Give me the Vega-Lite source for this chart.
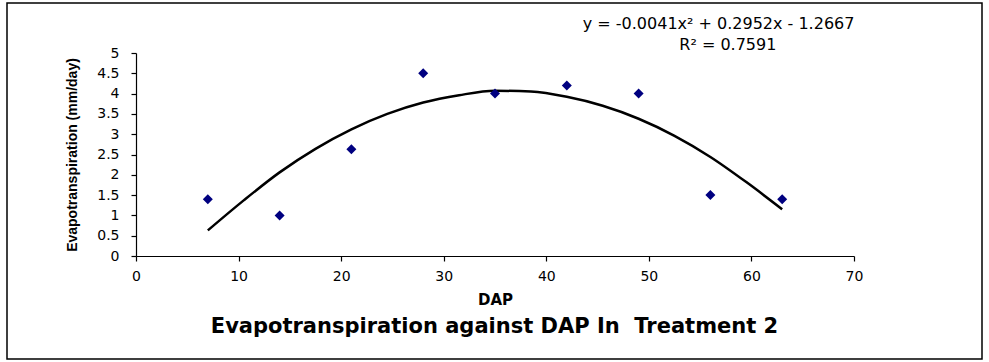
{
  "$schema": "https://vega.github.io/schema/vega-lite/v6.json",
  "width": 975,
  "height": 356,
  "autosize": {"type": "none"},
  "padding": {"left": 7, "top": 3, "right": 7, "bottom": 3},
  "background": "white",
  "title": {
    "text": "Evapotranspiration against DAP In \u00a0Treatment 2",
    "orient": "bottom",
    "anchor": "middle",
    "frame": "group",
    "offset": -43,
    "font": "DejaVu Sans",
    "fontSize": 21,
    "fontWeight": "bold",
    "color": "#000"
  },
  "config": {
    "view": {"stroke": "#000", "strokeWidth": 1.5},
    "axis": {"grid": false, "domainColor": "#000", "tickColor": "#000", "labelColor": "#000", "titleColor": "#000", "domainWidth": 1.2, "tickWidth": 1.2, "labelOverlap": false}
  },
  "datasets": {
    "obs": [
      {"DAP": 7, "ET": 1.4},
      {"DAP": 14, "ET": 1.0},
      {"DAP": 21, "ET": 2.63},
      {"DAP": 28, "ET": 4.5},
      {"DAP": 35, "ET": 4.0},
      {"DAP": 42, "ET": 4.2},
      {"DAP": 49, "ET": 4.0},
      {"DAP": 56, "ET": 1.5},
      {"DAP": 63, "ET": 1.4}
    ],
    "trend": [
      {"DAP": 7, "ET": 0.63},
      {"DAP": 10.5, "ET": 1.37},
      {"DAP": 14, "ET": 2.06},
      {"DAP": 17.5, "ET": 2.64},
      {"DAP": 21, "ET": 3.12},
      {"DAP": 24.5, "ET": 3.5},
      {"DAP": 28, "ET": 3.78},
      {"DAP": 31.5, "ET": 3.96},
      {"DAP": 35, "ET": 4.07},
      {"DAP": 38.5, "ET": 4.05},
      {"DAP": 42, "ET": 3.92},
      {"DAP": 45.5, "ET": 3.7},
      {"DAP": 49, "ET": 3.38},
      {"DAP": 52.5, "ET": 2.96},
      {"DAP": 56, "ET": 2.44},
      {"DAP": 59.5, "ET": 1.82},
      {"DAP": 63, "ET": 1.15}
    ],
    "notes": [
      {"label": "y = -0.0041x\u00b2 + 0.2952x - 1.2667", "DAP": 56.8, "ET": 5.72},
      {"label": "R\u00b2 = 0.7591", "DAP": 57.7, "ET": 5.19}
    ]
  },
  "encoding": {
    "x": {
      "field": "DAP", "type": "quantitative",
      "scale": {"domain": [0, 70], "range": [129, 847], "nice": false, "zero": false},
      "axis": {
        "title": "DAP", "offset": -103, "values": [0, 10, 20, 30, 40, 50, 60, 70], "format": "d",
        "tickSize": 5, "labelPadding": 8, "labelFont": "DejaVu Sans", "labelFontSize": 14,
        "labelFlush": false, "labelOverlap": false,
        "titleFont": "DejaVu Sans", "titleFontSize": 15, "titleFontWeight": "bold", "titlePadding": 9
      }
    },
    "y": {
      "field": "ET", "type": "quantitative",
      "scale": {"domain": [0, 5], "range": [253, 50], "nice": false, "zero": false},
      "axis": {
        "title": "Evapotranspiration (mm/day)", "offset": -129,
        "values": [0, 0.5, 1, 1.5, 2, 2.5, 3, 3.5, 4, 4.5, 5], "format": "~g",
        "tickSize": 5, "labelPadding": 12, "labelFont": "DejaVu Sans", "labelFontSize": 14,
        "labelFlush": false, "labelOverlap": false, "labelBound": false,
        "titleFont": "Liberation Sans", "titleFontSize": 14, "titleFontWeight": "bold", "titlePadding": 17
      }
    }
  },
  "layer": [
    {
      "data": {"name": "trend"},
      "mark": {"type": "line", "color": "#000", "strokeWidth": 2.5, "interpolate": "monotone"}
    },
    {
      "data": {"name": "obs"},
      "mark": {"type": "point", "shape": "diamond", "filled": true, "color": "#000080", "size": 100, "opacity": 1}
    },
    {
      "data": {"name": "notes"},
      "mark": {"type": "text", "font": "DejaVu Sans", "fontSize": 16, "color": "#000", "align": "center", "baseline": "middle"},
      "encoding": {
        "text": {"field": "label"}
      }
    }
  ]
}
